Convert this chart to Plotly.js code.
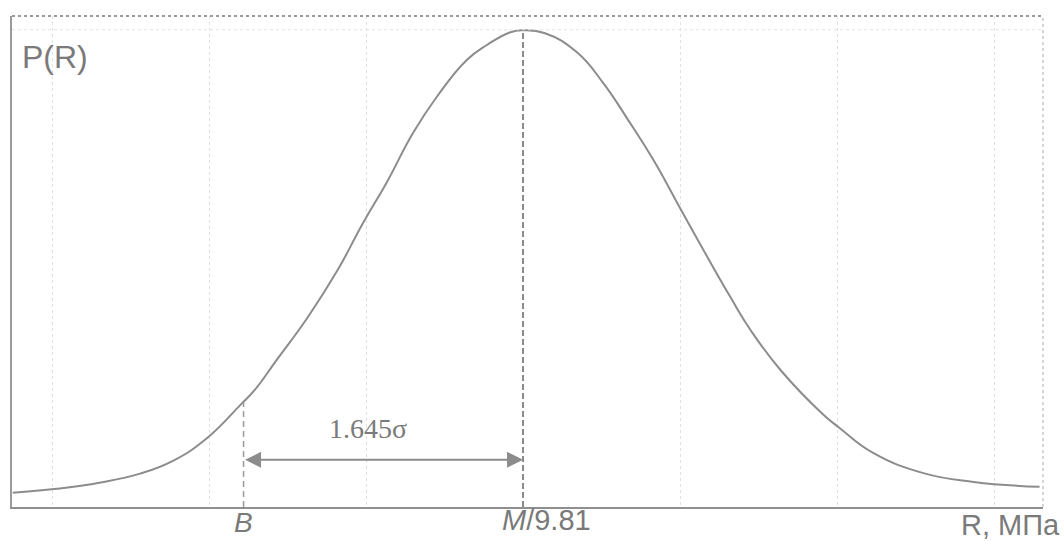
<!DOCTYPE html>
<html>
<head>
<meta charset="utf-8">
<script src="https://cdn.plot.ly/plotly-3.0.1.min.js"></script>
<style>html,body{margin:0;padding:0;background:#fff;}#chart{width:1064px;height:541px;}</style>
</head>
<body>
<div id="chart"></div>
<script>
// Curve: R in sigma units around the mean M (=0), relative density P(R)
const curveR = [-3.25,-2.97,-2.69,-2.44,-2.23,-2.01,-1.80,-1.71,-1.57,-1.37,-1.18,-1.02,-0.87,-0.70,-0.55,-0.36,-0.23,-0.08,0.00,0.14,0.34,0.51,0.67,0.83,1.00,1.15,1.32,1.45,1.64,1.91,2.02,2.23,2.55,2.87,3.29];
const curveP = [0.029,0.037,0.050,0.068,0.094,0.141,0.208,0.238,0.299,0.387,0.483,0.578,0.660,0.762,0.835,0.910,0.941,0.967,0.971,0.965,0.927,0.864,0.788,0.707,0.609,0.523,0.428,0.360,0.279,0.189,0.160,0.110,0.069,0.051,0.041];

// Marked points: B and M/9.81
const markR = [-1.78, 0.00];
const markTop = [0.212, 0.971];
const markLabels = ['<i>B</i>', '<i>M</i>/9.81'];
const gridR = [-3, -2, -1, 1, 2, 3];
const arrowY = 0.096;
const arrowLabel = '1.645σ';
const yLabel = 'P(R)';
const xLabel = 'R, МПа';

const grey = '#8c8c8c';
const textGrey = '#7a7a7a';

const traces = [
  {x: curveR, y: curveP, mode: 'lines', line: {color: grey, width: 2, shape: 'spline', smoothing: 1.3}, hoverinfo: 'skip'},
  {x: [markR[0], markR[0]], y: [0, markTop[0]], mode: 'lines', line: {color: '#9a9a9a', width: 1.5, dash: '6px,4px'}, hoverinfo: 'skip'},
  {x: [markR[1], markR[1]], y: [0, markTop[1]], mode: 'lines', line: {color: '#8a8a8a', width: 2, dash: '6px,3px'}, hoverinfo: 'skip'}
];

const sans = 'Liberation Sans, Arial, sans-serif';
const annotations = [
  {x: markR[0], y: 0.004, xref: 'x', yref: 'paper', text: markLabels[0], showarrow: false, yanchor: 'top', xanchor: 'center', font: {family: sans, size: 28, color: textGrey}},
  {x: markR[1], y: 0.010, xref: 'x', yref: 'paper', text: markLabels[1], showarrow: false, yanchor: 'top', xanchor: 'left', xshift: -23, font: {family: sans, size: 29, color: textGrey}},
  {x: 1.018, y: 0.0, xref: 'paper', yref: 'paper', text: xLabel, showarrow: false, yanchor: 'top', xanchor: 'right', font: {family: sans, size: 29, color: textGrey}},
  {x: 0.0, y: 0.958, xref: 'paper', yref: 'paper', text: yLabel, showarrow: false, yanchor: 'top', xanchor: 'left', xshift: 8, font: {family: sans, size: 32, color: textGrey}},
  {x: (markR[0] + markR[1]) / 2 - 0.1, y: arrowY + 0.028, xref: 'x', yref: 'y', text: arrowLabel, showarrow: false, yanchor: 'bottom', xanchor: 'center', font: {family: 'Liberation Serif, Times New Roman, serif', size: 28, color: textGrey}},
  {x: markR[1], y: arrowY, ax: markR[0], ay: arrowY, xref: 'x', yref: 'y', axref: 'x', ayref: 'y', text: '', showarrow: true, arrowhead: 2, startarrowhead: 2, arrowside: 'end+start', arrowsize: 1.6, startarrowsize: 1.6, arrowwidth: 2, arrowcolor: grey, standoff: 0, startstandoff: 0}
];

const shapes = [
  {type: 'line', xref: 'paper', yref: 'paper', x0: 0, x1: 1, y0: 1, y1: 1, line: {color: '#9a9a9a', width: 2, dash: 'dot'}},
  {type: 'line', xref: 'paper', yref: 'paper', x0: 1, x1: 1, y0: 0, y1: 1, line: {color: '#c8c8c8', width: 1.5, dash: 'dot'}},
  {type: 'line', xref: 'paper', yref: 'paper', x0: 0, x1: 1, y0: 0.972, y1: 0.972, line: {color: '#e2e2e2', width: 1, dash: 'dot'}}
];

const layout = {
  width: 1064, height: 541,
  margin: {l: 12, r: 21, t: 16, b: 34},
  paper_bgcolor: '#ffffff', plot_bgcolor: '#ffffff',
  showlegend: false,
  xaxis: {range: [-3.255, 3.312], tickmode: 'array', tickvals: gridR, showticklabels: false, ticks: '',
          showgrid: true, gridcolor: '#e0e0e0', gridwidth: 1, griddash: 'dot', zeroline: false,
          showline: true, linecolor: '#8f8f8f', linewidth: 2},
  yaxis: {range: [0, 1], showticklabels: false, ticks: '', showgrid: false, zeroline: false,
          showline: true, linecolor: '#9a9a9a', linewidth: 2},
  annotations: annotations,
  shapes: shapes
};

Plotly.newPlot('chart', traces, layout, {displayModeBar: false, staticPlot: true});
</script>
</body>
</html>
